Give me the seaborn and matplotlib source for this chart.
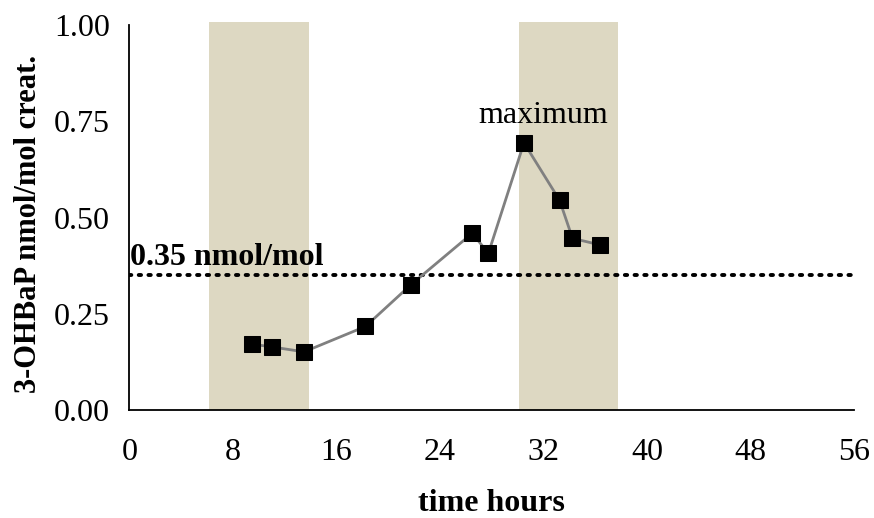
import matplotlib
matplotlib.use("Agg")
import matplotlib.pyplot as plt
import seaborn as sns
import pandas as pd

# ---------------------------
# Data
# ---------------------------
hours = [9.5, 11.0, 13.5, 18.25, 21.75, 26.5, 27.75, 30.5, 33.25, 34.25, 36.35]
ohbap = [0.171, 0.164, 0.151, 0.217, 0.325, 0.459, 0.407, 0.694, 0.545, 0.446, 0.429]
night_start = [6.15, 30.1]
night_end = [13.85, 37.8]
threshold = 0.35
x_ticks = [0, 8, 16, 24, 32, 40, 48, 56]
y_ticks = [0.00, 0.25, 0.50, 0.75, 1.00]

df = pd.DataFrame({"hours": hours, "ohbap": ohbap})

sns.set_style("white")
plt.rcParams["font.family"] = ["Liberation Serif", "DejaVu Serif"]
plt.rcParams["font.size"] = 23
plt.rcParams["text.color"] = "black"
plt.rcParams["axes.labelcolor"] = "black"
plt.rcParams["xtick.color"] = "black"
plt.rcParams["ytick.color"] = "black"

fig = plt.figure(figsize=(8.74, 5.18), dpi=100)
ax = fig.add_axes([0.148, 0.2085, 0.829, 0.7432])

# shaded periods
for s, e in zip(night_start, night_end):
    ax.axvspan(s, e, ymin=0, ymax=1.008, color="#ddd8c2", lw=0, zorder=0, clip_on=False)

# threshold line
ax.axhline(threshold, color="black", ls=(0, (0.6, 1.9)), lw=2.8,
           dash_capstyle="round", zorder=1)
ax.text(0.05, threshold + 0.008, "0.35 nmol/mol", fontweight="bold",
        fontsize=23, ha="left", va="bottom")

sns.lineplot(data=df, x="hours", y="ohbap", ax=ax, color="#808080", lw=2,
             marker="s", markersize=12, markerfacecolor="black",
             markeredgecolor="black", zorder=3)

ax.text(32, 0.765, "maximum", ha="center", va="center", fontsize=23)

ax.set_xlim(0, 56)
ax.set_ylim(0, 1.0)
ax.set_xticks(x_ticks)
ax.set_yticks(y_ticks)
ax.set_yticklabels([f"{v:.2f}" for v in y_ticks])
ax.tick_params(axis="both", direction="out", length=8, width=1.2,
               labelsize=23, pad=6)
ax.tick_params(axis="both", color="#555555")
ax.tick_params(axis="x", pad=12)

sns.despine(ax=ax)
for sp in ["left", "bottom"]:
    ax.spines[sp].set_color("black")
    ax.spines[sp].set_linewidth(1.3)

ax.set_xlabel("time hours", fontweight="bold", fontsize=23)
ax.set_ylabel("3-OHBaP nmol/mol creat.", fontweight="bold", fontsize=22)
ax.xaxis.set_label_coords(0.5, -0.205)
ax.yaxis.set_label_coords(-0.119, 0.484)

fig.savefig("out.png", dpi=100)
